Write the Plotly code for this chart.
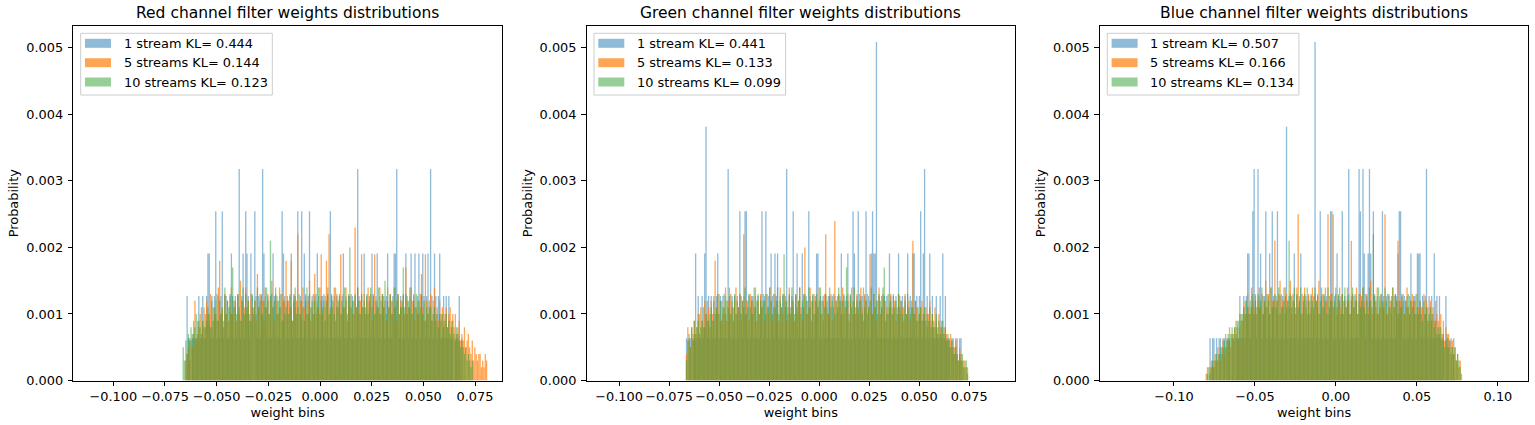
import plotly.graph_objects as go

FIG_W, FIG_H = 1535, 425

TITLES = ["Red channel filter weights distributions",
          "Green channel filter weights distributions",
          "Blue channel filter weights distributions"]
SERIES_NAMES = ["1 stream", "5 streams", "10 streams"]
KL_RED = ["0.444", "0.144", "0.123"]
KL_GREEN = ["0.441", "0.133", "0.099"]
KL_BLUE = ["0.507", "0.166", "0.134"]
X_LABEL = "weight bins"
Y_LABEL = "Probability"

# histogram bin specs (start of first bin, bin width)
RED_BINS = (-0.0665, 0.00063)
GREEN_BINS = (-0.0666, 0.00065)
BLUE_BINS = (-0.0805, 0.0008)

# 1-stream values are counts of one probability step; others in 1e-4 probability units
ONE_STREAM_STEP = 0.000636
UNIT = 0.0001

RED_1 = [0,0,0,2,1,1,0,1,1,1,1,1,2,1,1,2,1,1,2,3,
         3,1,2,1,2,4,1,2,1,2,4,1,2,2,1,1,2,3,2,1,
         2,1,2,5,1,2,3,1,4,3,2,1,3,2,0,4,2,1,2,1,
         2,5,3,2,1,2,1,2,1,3,2,1,2,1,2,1,4,3,2,1,
         2,1,2,3,1,2,2,1,4,1,2,4,1,3,2,1,2,4,1,2,
         1,2,1,3,2,1,2,2,1,2,1,2,1,4,2,1,2,1,2,1,
         2,1,2,3,1,2,1,2,2,1,2,1,2,1,5,2,1,2,1,3,
         1,2,1,2,1,3,2,1,2,3,1,2,1,2,2,1,2,3,1,2,
         1,2,3,3,5,2,1,2,1,2,1,3,2,1,2,3,1,2,3,1,
         2,3,1,2,3,2,1,2,3,1,5,2,1,3,2,1,2,3,1,1,
         2,1,2,1,2,1,1,1,0,1,1,1,2,0,1,0,0,0,0,0,
         0,0,0,0,0,0,0,0,0,0,0,0,0,0]
RED_5 = [0,0,3,4,5,3,6,5,7,12,6,9,8,10,7,9,11,8,12,10,
         9,13,8,11,10,12,9,14,18,10,11,8,13,10,12,9,11,14,10,12,
         11,9,13,10,15,9,12,11,14,10,12,9,13,11,10,12,9,16,11,13,
         10,12,9,14,11,13,10,12,15,11,9,13,12,10,14,11,13,9,12,18,
         10,12,11,18,9,13,11,12,22,10,12,9,14,11,13,10,12,15,9,11,
         13,16,10,12,11,14,19,10,12,11,18,13,22,10,12,11,14,9,13,11,
         12,19,10,13,11,14,9,12,11,13,10,12,23,11,14,10,12,19,11,13,
         10,12,14,11,13,9,12,19,10,12,11,14,10,13,11,12,9,14,11,13,
         10,12,11,14,9,13,10,12,11,13,10,17,12,11,14,10,12,13,9,11,
         12,10,13,16,11,9,19,12,10,11,13,9,12,14,10,11,9,12,10,11,
         9,10,11,8,10,11,9,10,8,10,7,8,9,6,7,6,8,5,6,7,
         5,4,6,3,5,4,3,4,4,2,3,2,4,3]
RED_10 = [5,3,6,4,7,6,8,7,9,8,10,7,9,8,11,9,8,10,9,11,
          10,8,12,9,11,10,13,9,12,10,11,9,14,10,12,11,13,10,17,11,
          12,10,13,11,9,12,14,10,13,11,12,10,9,13,11,12,10,14,11,12,
          13,10,12,11,14,12,10,21,13,11,12,14,10,12,11,13,9,12,10,11,
          12,10,13,11,9,12,14,10,11,13,10,12,11,9,12,14,10,13,11,12,
          10,12,13,11,14,10,12,11,13,9,12,14,10,11,13,12,10,14,11,12,
          13,10,12,11,14,12,10,13,20,11,12,10,13,11,14,12,10,13,11,12,
          11,13,10,12,14,11,13,10,12,11,14,10,12,13,11,15,10,12,11,13,
          12,10,14,11,12,13,10,11,12,17,11,13,10,12,11,14,10,12,11,13,
          10,12,11,13,10,12,9,11,10,12,11,9,10,11,9,10,8,10,9,10,
          8,9,10,8,9,7,8,9,7,6,8,7,6,5,6,5,4,5,3,4,
          3,2,3,0,0,0,0,0,0,0,0,0,0,0]

GREEN_1 = [1,0,1,1,0,1,1,3,1,2,1,1,2,1,3,6,1,2,1,2,
           1,2,1,2,3,1,2,1,2,1,2,1,5,2,1,2,1,2,1,2,
           1,4,2,1,2,4,4,1,2,1,2,2,1,2,1,2,1,2,4,1,
           2,4,1,2,1,3,2,1,3,2,3,1,2,1,2,1,2,5,1,2,
           1,2,4,1,2,3,1,2,1,3,2,1,2,1,4,2,1,2,1,2,
           3,3,1,2,1,2,1,2,1,2,2,1,2,1,2,1,2,1,2,3,
           1,2,1,2,3,1,2,1,4,3,1,2,4,1,2,2,1,2,4,1,
           2,1,3,4,3,3,8,1,2,1,2,1,2,1,2,1,3,2,1,2,
           1,2,1,3,2,1,2,1,2,1,3,1,2,1,3,3,1,2,1,2,
           4,1,3,5,1,2,1,3,1,2,1,1,2,1,1,2,1,3,1,2,
           1,1,1,0,1,1,0,1,1,0,1,1,0,0,0,0,0]
GREEN_5 = [4,8,6,5,8,7,9,6,8,10,7,11,9,8,12,10,9,11,8,12,
           10,9,18,11,10,13,9,12,10,11,14,9,12,10,13,11,9,12,14,10,
           11,13,9,12,22,10,12,11,9,13,10,12,11,14,9,12,10,13,11,12,
           9,13,11,10,14,12,9,11,13,10,12,9,14,11,10,13,12,9,11,14,
           10,12,11,9,13,10,12,14,11,9,13,20,10,12,11,14,9,12,13,10,
           12,11,14,10,12,9,13,22,11,10,12,13,9,11,24,12,10,13,11,12,
           14,10,12,11,13,9,12,14,10,12,11,13,10,12,14,11,9,13,12,10,
           11,19,12,10,13,11,9,12,14,10,11,13,12,9,11,10,12,13,11,10,
           12,9,11,13,10,12,11,9,13,10,11,12,9,11,21,10,12,11,9,10,
           11,12,9,10,11,8,10,12,9,10,8,11,9,7,10,8,9,7,8,6,
           7,6,5,7,6,4,5,6,4,3,5,4,3,2,3,2,1]
GREEN_10 = [3,6,7,5,8,6,9,7,8,9,10,8,9,11,8,10,12,9,10,11,
            9,12,10,11,13,10,12,9,11,13,10,12,11,14,10,12,11,13,10,12,
            11,13,10,12,11,14,10,12,13,11,12,10,14,11,12,13,10,12,11,13,
            12,10,13,11,14,12,10,13,11,12,14,10,12,11,13,19,11,12,10,13,
            11,14,12,10,13,11,12,14,10,12,11,13,12,10,14,11,12,13,10,12,
            13,11,12,14,10,12,11,13,12,10,14,11,12,13,10,12,11,14,12,10,
            12,13,11,17,12,10,13,11,12,14,10,12,11,13,12,10,14,11,12,13,
            11,12,14,10,13,11,12,10,13,12,11,14,17,12,10,13,11,12,10,13,
            11,12,10,13,11,12,10,11,12,10,13,11,10,12,11,10,12,9,11,10,
            11,9,10,11,9,10,9,11,8,10,9,8,10,8,9,7,8,9,7,8,
            6,7,6,5,6,5,4,5,4,3,4,3,4,3,2,3,2]

BLUE_1 = [0,0,0,1,0,1,1,0,1,0,1,1,0,1,1,0,1,1,1,0,
          1,1,0,1,1,1,2,1,1,2,1,2,3,3,1,2,4,5,2,1,
          5,2,3,1,2,2,4,1,2,3,1,4,2,1,2,4,1,2,1,2,
          1,2,6,1,2,1,2,1,3,1,2,1,2,3,1,2,1,2,1,2,
          1,2,1,2,8,1,2,1,4,2,1,2,1,2,1,2,4,4,1,2,
          1,3,2,1,2,4,1,2,1,2,5,1,2,1,2,1,2,1,5,4,
          2,5,3,1,2,3,5,3,1,4,2,1,2,1,2,1,4,2,1,2,
          1,2,1,2,1,2,1,2,3,4,4,2,1,2,1,2,1,2,3,1,
          2,2,1,3,3,3,1,2,1,2,5,1,2,1,2,1,3,1,2,1,
          2,1,1,1,0,2,1,1,0,1,0,1,0,0,0,0,0,0]
BLUE_5 = [1,2,0,2,3,2,3,4,3,5,4,3,5,6,4,7,5,6,8,5,
          7,6,8,7,9,6,8,10,9,11,12,10,13,11,10,14,12,11,13,10,
          12,14,11,13,10,12,15,11,13,10,14,12,11,21,12,10,13,15,11,12,
          14,10,13,12,11,15,10,13,12,11,14,25,12,10,13,11,14,12,10,13,
          12,11,14,10,13,12,11,15,10,12,13,11,14,12,25,10,13,12,25,11,
          13,10,12,14,11,13,10,12,11,14,12,10,21,13,11,12,14,10,12,13,
          11,14,12,10,13,11,12,15,10,13,12,11,14,10,12,13,11,12,25,10,
          13,11,12,10,14,11,13,12,21,10,12,11,13,10,12,14,11,10,12,13,
          11,12,10,13,11,12,10,11,13,10,12,11,9,12,10,11,9,12,10,9,
          8,10,7,9,6,8,5,7,6,5,6,4,5,3,4,2,3,0]
BLUE_10 = [0,1,2,1,2,3,2,3,4,3,4,5,4,5,6,5,6,7,6,7,
           8,7,8,9,8,9,10,9,10,11,10,12,11,10,12,11,13,10,12,11,
           13,11,12,14,10,12,11,13,12,10,14,11,12,13,11,12,14,10,13,11,
           12,14,11,12,21,13,11,12,14,10,13,11,12,14,10,12,13,11,14,12,
           10,13,12,11,14,12,13,10,12,14,11,13,12,10,14,11,12,13,11,12,
           14,11,13,12,10,13,12,14,11,12,13,10,12,14,11,13,12,10,13,11,
           12,14,11,13,12,10,14,12,11,22,13,12,10,14,11,13,12,11,14,12,
           10,13,11,12,14,11,13,12,10,12,11,13,12,10,12,11,13,10,12,11,
           12,10,13,11,10,12,11,9,12,10,11,9,10,11,9,10,8,9,7,8,
           7,8,6,7,5,6,7,5,6,4,5,4,5,3,4,3,2,1]

COLORS = ["rgba(31,119,180,0.5)", "rgba(255,127,14,0.7)", "rgba(44,160,44,0.5)"]
FONT = "DejaVu Sans"

panels = [
    (TITLES[0], KL_RED, RED_BINS, [RED_1, RED_5, RED_10], [-0.11936, 0.08796], 0.025, ".3f"),
    (TITLES[1], KL_GREEN, GREEN_BINS, [GREEN_1, GREEN_5, GREEN_10], [-0.1162, 0.0979], 0.025, ".3f"),
    (TITLES[2], KL_BLUE, BLUE_BINS, [BLUE_1, BLUE_5, BLUE_10], [-0.1457, 0.1188], 0.05, ".2f"),
]
LEFTS_PX = [73.3, 586.6, 1099.9]
WIDTH_PX = 428.5
TOP_PX, BOTTOM_PX = 26.0, 380.5
Y_RANGE = [0, 0.00533]

def px(x):
    return x / FIG_W

def py(y):
    return (FIG_H - y) / FIG_H

fig = go.Figure()
shapes, annotations = [], []
for k, (title, kls, (start, width), series, xr, dt, fmt) in enumerate(panels):
    xa = "x" if k == 0 else f"x{k+1}"
    ya = "y" if k == 0 else f"y{k+1}"
    for j, vals in enumerate(series):
        scale = ONE_STREAM_STEP if j == 0 else UNIT
        centers = [start + (i + 0.5) * width for i in range(len(vals))]
        fig.add_trace(go.Bar(x=centers, y=[v * scale for v in vals], width=width,
                             marker=dict(color=COLORS[j], line=dict(width=0)),
                             name=f"{SERIES_NAMES[j]} KL= {kls[j]}",
                             showlegend=False, xaxis=xa, yaxis=ya))
    left = LEFTS_PX[k]
    dom = [px(left), px(left + WIDTH_PX)]
    axis_common = dict(showline=True, mirror=True, linecolor="black", linewidth=1,
                       ticks="outside", ticklen=4.5, tickcolor="black", showgrid=False,
                       zeroline=False, automargin=False,
                       tickfont=dict(family=FONT, size=12.9, color="black"))
    fig.layout[("xaxis" if k == 0 else f"xaxis{k+1}")] = dict(
        domain=dom, range=xr, anchor=ya, dtick=dt, tick0=0, tickformat=fmt,
        title=dict(text=X_LABEL, font=dict(family=FONT, size=12.9, color="black"), standoff=4),
        **axis_common)
    fig.layout[("yaxis" if k == 0 else f"yaxis{k+1}")] = dict(
        domain=[py(BOTTOM_PX), py(TOP_PX)], range=Y_RANGE, anchor=xa, dtick=0.001, tick0=0,
        tickformat=".3f", ticklabelstandoff=2,
        title=dict(text=Y_LABEL, font=dict(family=FONT, size=12.9, color="black"), standoff=4),
        **axis_common)
    # subplot title
    annotations.append(dict(text=title, x=px(left + WIDTH_PX / 2), y=py(13), xref="paper", yref="paper",
                            showarrow=False, xanchor="center", yanchor="middle",
                            font=dict(family=FONT, size=15.5, color="black")))
    # legend box
    shapes.append(dict(type="rect", xref="paper", yref="paper",
                       x0=px(left + 7.4), x1=px(left + 199), y0=py(95), y1=py(33.3),
                       line=dict(color="#cccccc", width=1), fillcolor="rgba(255,255,255,0.8)", layer="above"))
    for j, rowy in enumerate([43.3, 62.7, 82.0]):
        shapes.append(dict(type="rect", xref="paper", yref="paper",
                           x0=px(left + 11.7), x1=px(left + 37.7), y0=py(rowy + 4.5), y1=py(rowy - 4.5),
                           line=dict(width=0), fillcolor=COLORS[j], layer="above"))
        annotations.append(dict(text=f"{SERIES_NAMES[j]} KL= {kls[j]}", x=px(left + 48.4), y=py(rowy),
                                xref="paper", yref="paper", showarrow=False, xanchor="left",
                                yanchor="middle", font=dict(family=FONT, size=12.9, color="black")))

fig.update_layout(width=FIG_W, height=FIG_H, margin=dict(l=0, r=0, t=0, b=0, autoexpand=False),
                  barmode="overlay", plot_bgcolor="white", paper_bgcolor="white",
                  shapes=shapes, annotations=annotations, font=dict(family=FONT, color="black"))
fig.write_html("out.html", config={"displayModeBar": False},
               post_script="document.body.style.margin='0';document.body.style.overflow='hidden';")
